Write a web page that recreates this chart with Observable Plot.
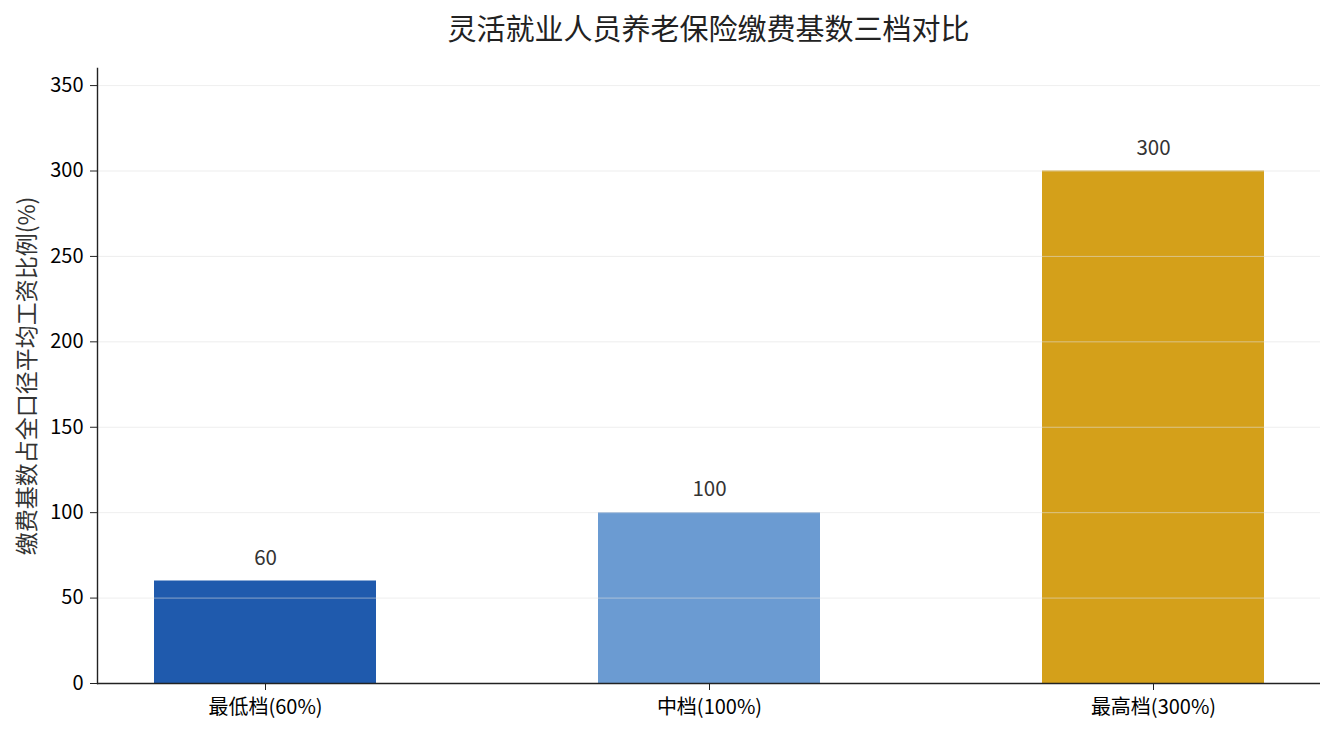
<!DOCTYPE html>
<html>
<head>
<meta charset="utf-8">
<script src="https://cdn.jsdelivr.net/npm/d3@7"></script>
<script src="https://cdn.jsdelivr.net/npm/@observablehq/plot@0.6"></script>
<style>
  body { margin: 0; background: #fff; font-family: "Noto Sans CJK SC", "Noto Sans", sans-serif; }
  #title { height: 50px; line-height: 54px; text-align: center; font-size: 29px; color: #222; margin-left: 97px; width: 1223px; }
  #chart svg { display: block; }
</style>
</head>
<body>
<div id="title">灵活就业人员养老保险缴费基数三档对比</div>
<div id="chart"></div>
<script>
const categories = ["最低档(60%)", "中档(100%)", "最高档(300%)"];
const values = [60, 100, 300];
const colors = ["#1f5aad", "#6b9bd2", "#d4a01a"];
const yTicks = [0, 50, 100, 150, 200, 250, 300, 350];

const data = categories.map((c, i) => ({category: c, value: values[i], color: colors[i]}));

const chart = Plot.plot({
  width: 1335,
  height: 685,
  marginTop: 18,
  marginBottom: 52,
  marginLeft: 97,
  marginRight: 15,
  style: {fontFamily: "'Noto Sans CJK SC', 'Noto Sans', sans-serif", fontSize: "20px", color: "#000", background: "#fff"},
  x: {domain: categories, paddingInner: 0.5, paddingOuter: 0.125, label: null},
  y: {domain: [0, 360], label: null},
  marks: [
    Plot.barY(data, {x: "category", y: "value", fill: d => d.color}),
    Plot.ruleY(yTicks, {stroke: "#e0e0e0", strokeOpacity: 0.7, strokeWidth: 0.8}),
    Plot.text(data, {x: "category", y: "value", text: d => String(d.value), dy: -23, fill: "#333", fontSize: 20.5}),
    Plot.axisY({ticks: yTicks, tickSize: 7, tickPadding: 7, stroke: "#222", fill: "#000", fontSize: 20, label: null}),
    Plot.axisX({tickSize: 7, tickPadding: 9, stroke: "#222", fill: "#000", fontSize: 20, label: null}),
    Plot.frame({anchor: "left", stroke: "#222", strokeWidth: 1.4}),
    Plot.ruleY([0], {stroke: "#222", strokeWidth: 1.4}),
    Plot.text(["缴费基数占全口径平均工资比例(%)"], {frameAnchor: "left", textAnchor: "middle", dx: -70, rotate: -90, fill: "#333", fontSize: 23})
  ]
});
document.getElementById("chart").appendChild(chart);
</script>
</body>
</html>
